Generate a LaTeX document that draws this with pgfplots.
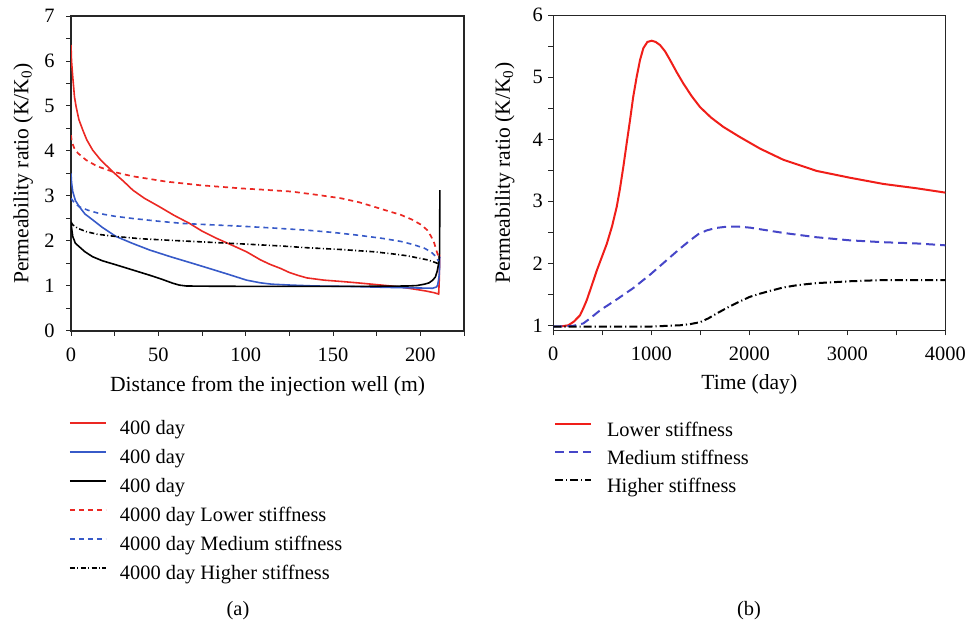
\documentclass[border=0pt]{standalone}
\usepackage{fontspec}
\setmainfont{Liberation Serif}
\usepackage{pgfplots}
\pgfplotsset{compat=1.18}
\definecolor{cred}{RGB}{235,40,35}
\definecolor{cblue}{RGB}{55,90,200}
\definecolor{rred}{RGB}{240,30,25}
\definecolor{rblue}{RGB}{70,70,200}
\pgfplotsset{
  common/.style={
    scale only axis,
    /pgf/number format/assume math mode=true,
    tick align=outside,
    xtick pos=bottom, ytick pos=left,
    major tick length=2.5pt, minor tick length=2.5pt,
    every tick/.style={black!85, line width=0.5pt},
    axis line style={black!85, line width=0.6pt},
    xticklabel style={anchor=base, inner sep=0pt, yshift=-12.8pt},
    label style={font=\fontsize{10.8}{13}\selectfont},
    legend cell align=left,
    legend image code/.code={\draw[##1, line width=1pt] (0pt,3.5pt) -- (18pt,3.5pt);},
  }
}
\begin{document}
\begin{tikzpicture}[font=\fontsize{10.2}{12}\selectfont]
\path[use as bounding box] (0,0) rectangle (484pt,-313pt);
% ---------------- (a) ----------------
\begin{axis}[common,
  at={(35.5pt,-8pt)}, anchor=north west,
  width=196.5pt, height=157.5pt,
  xmin=0, xmax=225, ymin=0, ymax=7,
  xtick={0,50,100,150,200}, minor xtick={25,75,125,175,225},
  ytick={0,1,...,7}, minor ytick={0.5,1.5,...,6.5},
  yticklabel style={anchor=east, inner sep=0pt, xshift=-5.5pt},
  xlabel={Distance from the injection well (m)},
  ylabel={Permeability ratio (K/K\textsubscript{0})},
  xlabel style={at={(axis description cs:0.5,-0.1905)}, anchor=base},
  ylabel style={at={(axis description cs:-0.1084,0.5)}, anchor=base},
  legend style={at={(axis description cs:-0.0051,-0.2825)}, anchor=north west,
    draw=none, fill=none, inner sep=0pt, outer sep=0pt,
    row sep=4.5pt, column sep=6.5pt,
    nodes={inner sep=0pt, text height=7.5pt, text depth=2.5pt}},
]
\addplot[cred, line width=0.8pt] coordinates {
(0,6.36) (0.3,6.0) (1,5.65) (2,5.2) (2.9,4.99) (4.5,4.7) (6.7,4.47) (9,4.25)
(12.4,4.02) (17,3.8) (23.9,3.54) (30,3.33) (35.4,3.13) (42,2.95) (50.7,2.76)
(59,2.57) (67.9,2.39) (75,2.22) (83.3,2.06) (92,1.91) (100.5,1.76) (108.5,1.58)
(114,1.48) (120,1.39) (125,1.3) (129.6,1.24) (135,1.18) (144.9,1.13) (155,1.1)
(164,1.07) (175,1.03) (183.2,1.0) (190,0.97) (196.6,0.93) (203,0.89) (208,0.85)
(210.5,0.82) (210.9,1.2) (211.0,1.7)};
\addlegendentry{400 day}
\addplot[cblue, line width=0.8pt] coordinates {
(0,3.5) (0.3,3.3) (1,3.1) (2.5,2.9) (4.8,2.76) (8,2.6) (12.4,2.47) (18,2.3)
(25.8,2.1) (35,1.95) (45,1.8) (57,1.65) (69.9,1.5) (80,1.38) (90,1.26)
(100.5,1.13) (108.5,1.07) (115,1.04) (125.8,1.02) (140,1.0) (160,0.99)
(180,0.97) (192.7,0.96) (200,0.955) (207.1,0.95) (209.3,0.98) (209.9,1.02)
(210.5,1.15) (210.9,1.28) (211.1,1.65)};
\addlegendentry{400 day}
\addplot[black, line width=0.8pt] coordinates {
(0,2.43) (0.3,2.3) (1,2.1) (2.5,1.95) (4.8,1.87) (8,1.76) (12.4,1.65) (18,1.56)
(25.8,1.47) (35,1.36) (45,1.24) (52,1.15) (58.4,1.06) (62,1.02) (66,1.0)
(80,0.995) (120,0.99) (160,0.99) (192.7,1.0) (198,1.01) (202.3,1.04) (205,1.07)
(207.1,1.13) (208.6,1.2) (209.6,1.32) (210.5,1.5) (211,1.73) (211.2,3.13)};
\addlegendentry{400 day}
\addplot[cred, line width=0.85pt, dash pattern=on 2.5pt off 2pt] coordinates {
(0,4.35) (0.5,4.2) (1.9,4.06) (4,3.95) (8.6,3.8) (15,3.66) (23.9,3.54) (35,3.44)
(54.5,3.32) (73.7,3.24) (97,3.17) (110,3.14) (125.8,3.1) (140,3.03) (154.5,2.95)
(165,2.86) (173.6,2.76) (182,2.66) (188.9,2.58) (195,2.48) (200.5,2.36)
(204,2.24) (206.2,2.1) (208,1.95) (209.1,1.8) (210.4,1.65)};
\addlegendentry{4000 day Lower stiffness}
\addplot[cblue, line width=0.8pt, dash pattern=on 2.5pt off 2pt] coordinates {
(0,2.95) (1.9,2.85) (4.8,2.76) (10,2.68) (16.3,2.61) (25,2.55) (35.4,2.5)
(50,2.44) (64,2.39) (80,2.36) (97,2.33) (115,2.29) (135.3,2.24) (150,2.19)
(164,2.13) (178,2.06) (188.9,1.99) (196,1.92) (202.3,1.84) (206,1.76)
(209.1,1.65) (210.4,1.55)};
\addlegendentry{4000 day Medium stiffness}
\addplot[black, line width=0.8pt, dash pattern=on 2.5pt off 1.2pt on 0.5pt off 1.2pt] coordinates {
(0,2.42) (1,2.36) (4,2.28) (8.6,2.21) (15,2.15) (25.8,2.1) (40,2.05) (54.5,2.02)
(75,1.98) (100.5,1.93) (120,1.89) (135.3,1.85) (155,1.81) (173.6,1.76)
(185,1.71) (192.7,1.67) (199,1.62) (204.2,1.58) (208,1.53) (210,1.5)};
\addlegendentry{4000 day Higher stiffness}
\end{axis}
% ---------------- (b) ----------------
\begin{axis}[common,
  at={(276.65pt,-7.65pt)}, anchor=north west,
  width=196pt, height=157.5pt,
  xmin=0, xmax=4000, ymin=0.919, ymax=6,
  xtick={0,1000,...,4000}, minor xtick={500,1500,...,3500},
  ytick={1,2,...,6}, minor ytick={1.5,2.5,...,5.5},
  scaled x ticks=false,
  xticklabel style={/pgf/number format/.cd, set thousands separator={}},
  yticklabel style={anchor=east, inner sep=0pt, xshift=-2.5pt},
  xlabel={Time (day)},
  ylabel={Permeability ratio (K/K\textsubscript{0})},
  xlabel style={at={(axis description cs:0.5,-0.1873)}, anchor=base},
  ylabel style={at={(axis description cs:-0.1107,0.5)}, anchor=base},
  legend style={at={(axis description cs:0.0018,-0.2889)}, anchor=north west,
    draw=none, fill=none, inner sep=0pt, outer sep=0pt,
    row sep=4pt, column sep=7.5pt,
    nodes={inner sep=0pt, text height=7.5pt, text depth=2.5pt}},
]
\addplot[rred, line width=1pt] coordinates {
(70,0.98) (153,1.0) (210,1.06) (272,1.16) (305,1.27) (340,1.4) (390,1.63)
(443,1.88) (495,2.1) (545,2.31) (600,2.6) (647,2.91) (680,3.2) (715,3.56)
(750,3.95) (783,4.31) (815,4.68) (851,5.01) (885,5.28) (919,5.47) (960,5.57)
(1004,5.59) (1045,5.57) (1089,5.52) (1140,5.42) (1191,5.28) (1260,5.08)
(1327,4.9) (1410,4.7) (1497,4.52) (1610,4.35) (1735,4.2) (1900,4.04)
(2109,3.85) (2347,3.67) (2687,3.49) (3027,3.38) (3367,3.28) (3707,3.21)
(4000,3.14)};
\addlegendentry{Lower stiffness}
\addplot[rblue, line width=1pt, dash pattern=on 4.5pt off 2.5pt] coordinates {
(0,0.98) (200,0.99) (306,1.03) (390,1.13) (476,1.24) (650,1.42) (816,1.6)
(990,1.82) (1157,2.05) (1280,2.22) (1395,2.37) (1480,2.47) (1565,2.53)
(1660,2.57) (1769,2.59) (1900,2.59) (2007,2.575) (2347,2.49) (2687,2.42)
(3027,2.37) (3367,2.34) (3707,2.32) (4000,2.29)};
\addlegendentry{Medium stiffness}
\addplot[black, line width=1pt, dash pattern=on 4pt off 1.5pt on 0.6pt off 1.5pt] coordinates {
(0,0.98) (600,0.98) (1000,0.98) (1293,1.0) (1400,1.02) (1497,1.05) (1580,1.11)
(1667,1.19) (1771,1.28) (1871,1.36) (2007,1.46) (2109,1.51) (2200,1.55)
(2347,1.61) (2500,1.65) (2687,1.68) (3027,1.71) (3367,1.73) (4000,1.73)};
\addlegendentry{Higher stiffness}
\end{axis}
\node[anchor=base] at (119pt,-307.5pt) {(a)};
\node[anchor=base] at (374.5pt,-307.5pt) {(b)};
\end{tikzpicture}
\end{document}
